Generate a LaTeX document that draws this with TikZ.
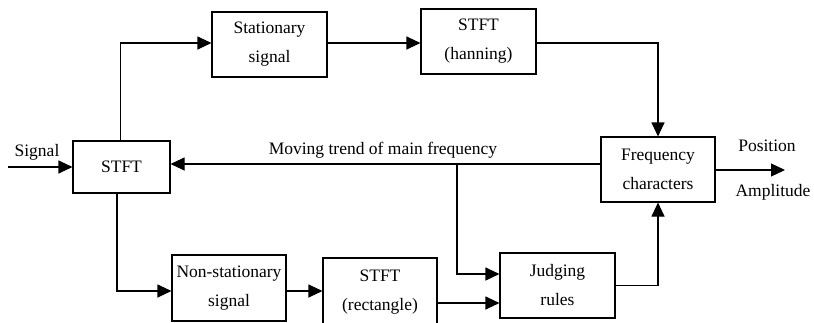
\documentclass[tikz,border=0pt]{standalone}
\usepackage{fontspec}
\setmainfont{Liberation Serif}
\usetikzlibrary{arrows.meta}
\begin{document}
\begin{tikzpicture}[x=1pt,y=-1pt,
  box/.style={draw,line width=1.1pt,inner sep=0pt,align=center,font=\fontsize{17.5}{29}\selectfont},
  lbl/.style={inner sep=0pt,font=\fontsize{17.5}{21}\selectfont},
  arr/.style={line width=1.1pt,-{Triangle[length=14pt,width=13pt]}},
  ln/.style={line width=1.1pt}]
\useasboundingbox (0,0) rectangle (814,322);
\node[box,minimum width=97pt,minimum height=52pt] (stft) at (121.5,167) {STFT};
\node[box,minimum width=115pt,minimum height=65pt] (stat) at (269.5,44.5) {Stationary\\signal};
\node[box,minimum width=115pt,minimum height=65pt] (han) at (478.5,41.5) {STFT\\(hanning)};
\node[box,minimum width=114pt,minimum height=65pt] (freq) at (658,169.5) {Frequency\\characters};
\node[box,minimum width=115pt,minimum height=65pt] (judge) at (557.5,285.5) {Judging\\rules};
\node[box,minimum width=114pt,minimum height=66pt] (nonst) at (229,288) {Non-stationary\\signal};
\node[box,minimum width=114pt,minimum height=68pt] (rect) at (380,292) {STFT\\(rectangle)};
% row / column coordinates
\coordinate (sig) at (8,167);
\coordinate (out) at (785,170);
\coordinate (yA) at (0,43);
\coordinate (yT) at (0,164);
\coordinate (br) at (457,164);
\coordinate (yJ1) at (0,274);
\coordinate (yJ2) at (0,303);
\coordinate (yN) at (0,291);
\coordinate (xU) at (120.7,0);
\coordinate (xD) at (117,0);
% labels
\node[lbl] (lsig) at (37,152) {Signal};
\node[lbl] (ltrend) at (383,150) {Moving trend of main frequency};
\node[lbl] (lpos) at (767,146) {Position};
\node[lbl] (lamp) at (773,192) {Amplitude};
% connectors
\draw[arr] (sig) -- (stft.west |- sig);
\draw[arr] (xU |- stft.north) |- (stat.west |- yA);
\draw[arr] (stat.east |- yA) -- (han.west |- yA);
\draw[arr] (han.east |- yA) -| (freq.north);
\draw[arr] (freq.west |- yT) -- (stft.east |- yT);
\draw[arr] (br) |- (judge.west |- yJ1);
\draw[arr] (xD |- stft.south) |- (nonst.west |- yN);
\draw[arr] (nonst.east |- yN) -- (rect.west |- yN);
\draw[arr] (rect.east |- yJ2) -- (judge.west |- yJ2);
\draw[arr] (judge.east) -| (freq.south);
\draw[arr] (freq.east |- out) -- (out);
\end{tikzpicture}
\end{document}
